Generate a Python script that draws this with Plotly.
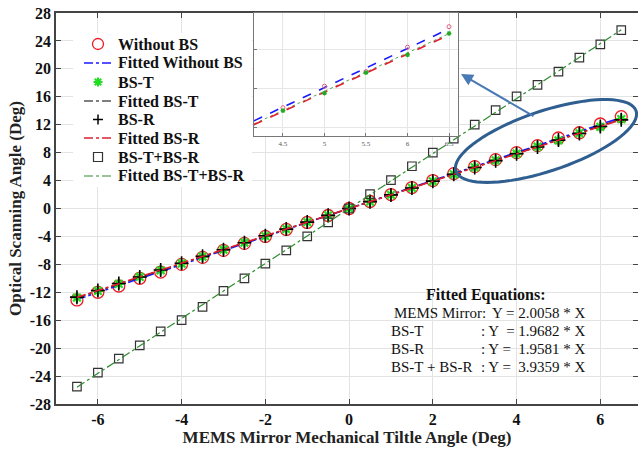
import numpy as np
import plotly.graph_objects as go

# ---------------- data ----------------
tilt = [-6.5, -6.0, -5.5, -5.0, -4.5, -4.0, -3.5, -3.0, -2.5, -2.0, -1.5, -1.0, -0.5, 0.0,
        0.5, 1.0, 1.5, 2.0, 2.5, 3.0, 3.5, 4.0, 4.5, 5.0, 5.5, 6.0, 6.5]
without_bs = [-13.1, -12.0, -11.1, -10.0, -9.1, -8.0, -7.0, -6.0, -5.0, -4.0, -3.0, -2.0, -1.0, 0.0,
              1.0, 2.0, 3.0, 4.0, 5.0, 6.0, 7.0, 8.0, 9.0, 10.1, 10.85, 12.1, 13.15]
bs_t = [-12.75, -11.8, -10.8, -9.8, -8.85, -7.9, -6.9, -5.9, -4.9, -3.95, -2.95, -1.95, -0.98, 0.0,
        0.98, 1.96, 2.95, 3.9, 4.9, 5.9, 6.9, 7.85, 8.85, 9.75, 10.8, 11.7, 12.8]
bs_r = [-12.7, -11.75, -10.75, -9.8, -8.8, -7.85, -6.85, -5.9, -4.9, -3.9, -2.95, -1.95, -0.98, 0.0,
        0.98, 1.95, 2.94, 3.92, 4.9, 5.88, 6.85, 7.85, 8.8, 9.8, 10.75, 11.75, 12.7]
bs_tr = [-25.5, -23.5, -21.5, -19.6, -17.6, -16.0, -14.1, -11.8, -10.0, -7.9, -6.0, -4.0, -2.0, 0.0,
         2.05, 4.05, 6.05, 8.0, 10.0, 12.0, 14.1, 16.05, 17.7, 19.6, 21.6, 23.5, 25.55]

slope_mems = 2.0058
slope_bst = 1.9682
slope_bsr = 1.9581
slope_bstr = 3.9359

fit_x = [-6.5, 6.5]
inset_fit_x = [4.15, 6.5]
inset_idx_start = 22  # x = 4.5 ... 6.5 shown in the inset

x_ticks = [-6, -4, -2, 0, 2, 4, 6]
y_ticks = list(range(-28, 29, 4))

legend_labels = ["Without BS", "Fitted Without BS", "BS-T", "Fitted BS-T",
                 "BS-R", "Fitted BS-R", "BS-T+BS-R", "Fitted BS-T+BS-R"]
eq_labels = ["MEMS Mirror:", "BS-T", "BS-R", "BS-T + BS-R"]
eq_rhs = ["Y = 2.0058 * X", ": Y  = 1.9682 * X", ": Y =  1.9581 * X", ": Y =  3.9359 * X"]

# ---------------- geometry ----------------
SERIF = "Liberation Serif"
OFF = 0                    # body margin removed via post_script
W, H = 638, 449
ML, MT, MB, MR = 56, 13, 45, 0
XR = [-7, 6.9]
YR = [-28, 28]
pw = W - ML - MR
ph = H - MT - MB

def px2data(px, py):
    x = XR[0] + (px - OFF - ML) / pw * (XR[1] - XR[0])
    y = YR[1] - (py - OFF - MT) / ph * (YR[1] - YR[0])
    return x, y

def wx(px):
    return (px - OFF - ML) / pw

def wy(py):
    return (H - MB - (py - OFF)) / ph

RED = "#ee1c24"
BLUE = "#1a1aff"
GREEN_M = "#22dd22"
GREEN_L = "#2e8b2e"
FRED = "#e02030"

fig = go.Figure()

def fitted(slope, xs):
    return [slope * v for v in xs]

# main traces
fig.add_trace(go.Scatter(x=tilt, y=without_bs, mode="markers", name=legend_labels[0],
                         marker=dict(symbol="circle-open", size=12, color=RED, line=dict(width=1.3))))
fig.add_trace(go.Scatter(x=fit_x, y=fitted(slope_mems, fit_x), mode="lines", name=legend_labels[1],
                         line=dict(color=BLUE, width=1.6, dash="dashdot")))
fig.add_trace(go.Scatter(x=tilt, y=bs_t, mode="markers", name=legend_labels[2],
                         marker=dict(symbol="asterisk-open", size=9, color=GREEN_M,
                                     line=dict(width=2.2, color=GREEN_M))))
fig.add_trace(go.Scatter(x=fit_x, y=fitted(slope_bst, fit_x), mode="lines", name=legend_labels[3],
                         line=dict(color="black", width=1.2, dash="dashdot")))
fig.add_trace(go.Scatter(x=tilt, y=bs_r, mode="markers", name=legend_labels[4],
                         marker=dict(symbol="cross-thin-open", size=10, color="black",
                                     line=dict(width=1.6, color="black"))))
fig.add_trace(go.Scatter(x=fit_x, y=fitted(slope_bsr, fit_x), mode="lines", name=legend_labels[5],
                         line=dict(color=FRED, width=1.6, dash="dashdot")))
fig.add_trace(go.Scatter(x=tilt, y=bs_tr, mode="markers", name=legend_labels[6],
                         marker=dict(symbol="square-open", size=8.5, color="#333333", line=dict(width=1.2))))
fig.add_trace(go.Scatter(x=fit_x, y=fitted(slope_bstr, fit_x), mode="lines", name=legend_labels[7],
                         line=dict(color=GREEN_L, width=1.2, dash="dashdot")))

# inset traces
ix = tilt[inset_idx_start:]
fig.add_trace(go.Scatter(x=inset_fit_x, y=fitted(slope_mems, inset_fit_x), mode="lines",
                         xaxis="x2", yaxis="y2", line=dict(color=BLUE, width=1.6, dash="dash")))
fig.add_trace(go.Scatter(x=inset_fit_x, y=fitted(slope_bst, inset_fit_x), mode="lines",
                         xaxis="x2", yaxis="y2", line=dict(color=GREEN_L, width=0.8, dash="dot")))
fig.add_trace(go.Scatter(x=inset_fit_x, y=fitted(slope_bsr, inset_fit_x), mode="lines",
                         xaxis="x2", yaxis="y2", line=dict(color=FRED, width=1.6, dash="dash")))
fig.add_trace(go.Scatter(x=ix, y=without_bs[inset_idx_start:], mode="markers",
                         xaxis="x2", yaxis="y2",
                         marker=dict(symbol="circle-open", size=4, color="#e06080", line=dict(width=1))))
fig.add_trace(go.Scatter(x=ix, y=bs_t[inset_idx_start:], mode="markers",
                         xaxis="x2", yaxis="y2",
                         marker=dict(symbol="asterisk-open", size=4, color="#22aa22",
                                     line=dict(width=1.2, color="#22aa22"))))

# ---------------- manual legend ----------------
leg_rows = [44, 63, 82, 101, 119.5, 138, 157, 176]
fig.add_shape(type="rect", xref="paper", yref="paper", x0=wx(73), x1=wx(252), y0=wy(187), y1=wy(33),
              fillcolor="white", line=dict(width=0), layer="above")
SX = 98
def seg(x0, y0, x1, y1, color, width, dash="solid"):
    fig.add_shape(type="line", xref="paper", yref="paper", x0=wx(x0), y0=wy(y0), x1=wx(x1), y1=wy(y1),
                  line=dict(color=color, width=width, dash=dash), layer="above")

r = 5.5
fig.add_shape(type="circle", xref="paper", yref="paper", x0=wx(SX - r), x1=wx(SX + r),
              y0=wy(leg_rows[0] + r), y1=wy(leg_rows[0] - r), line=dict(color=RED, width=1.3), layer="above")
for row, col, wdt in [(1, BLUE, 1.6), (3, "black", 1.2), (5, FRED, 1.6), (7, GREEN_L, 1.2)]:
    seg(84, leg_rows[row], 114, leg_rows[row], col, wdt, "dashdot")
yy = leg_rows[2]
s = 4.5
seg(SX - s, yy, SX + s, yy, GREEN_M, 2)
seg(SX, yy - s, SX, yy + s, GREEN_M, 2)
seg(SX - 3.2, yy - 3.2, SX + 3.2, yy + 3.2, GREEN_M, 2)
seg(SX - 3.2, yy + 3.2, SX + 3.2, yy - 3.2, GREEN_M, 2)
yy = leg_rows[4]
seg(SX - 5, yy, SX + 5, yy, "black", 1.5)
seg(SX, yy - 5, SX, yy + 5, "black", 1.5)
yy = leg_rows[6]
fig.add_shape(type="rect", xref="paper", yref="paper", x0=wx(SX - 4.5), x1=wx(SX + 4.5),
              y0=wy(yy + 4.5), y1=wy(yy - 4.5), line=dict(color="#333333", width=1.2), layer="above")
for lab, ry in zip(legend_labels, leg_rows):
    fig.add_annotation(x=wx(116), y=wy(ry), xref="paper", yref="paper", showarrow=False,
                       xanchor="left", yanchor="middle", text="<b>" + lab + "</b>",
                       font=dict(family=SERIF, size=16, color="#111"))

# ---------------- ellipse + arrow ----------------
cx, cy, a, b, ang = 546, 141, 95, 30, np.deg2rad(18.5)
t = np.linspace(0, 2 * np.pi, 80)
epx = cx + a * np.cos(t) * np.cos(ang) + b * np.sin(t) * np.sin(ang)
epy = cy - a * np.cos(t) * np.sin(ang) + b * np.sin(t) * np.cos(ang)
pts = [px2data(u, v) for u, v in zip(epx, epy)]
path = "M " + " L ".join(f"{p[0]:.4f},{p[1]:.4f}" for p in pts) + " Z"
fig.add_shape(type="path", path=path, xref="x", yref="y", line=dict(color="#2f5f90", width=3))

ax0, ay0 = px2data(535, 117)
ax1, ay1 = px2data(461, 74)
fig.add_annotation(x=ax1, y=ay1, ax=ax0, ay=ay0, xref="x", yref="y", axref="x", ayref="y",
                   showarrow=True, arrowhead=2, arrowsize=1.2, arrowwidth=2, arrowcolor="#4a7ab5", text="")

# ---------------- equations ----------------
fig.add_annotation(x=px2data(486, 0)[0], y=px2data(0, 295)[1], xref="x", yref="y", showarrow=False,
                   text="<b>Fitted Equations:</b>", font=dict(family=SERIF, size=16, color="#111"))
label_x = [392, 389, 389, 389]
rhs_x = [490, 479, 479, 479]
line_y = [313, 331, 349, 367]
for lab, rhs, lx, rx, ly in zip(eq_labels, eq_rhs, label_x, rhs_x, line_y):
    fig.add_annotation(x=px2data(lx, 0)[0], y=px2data(0, ly)[1], xref="x", yref="y", showarrow=False,
                       xanchor="left", text=lab, font=dict(family=SERIF, size=15, color="#111"))
    fig.add_annotation(x=px2data(rx, 0)[0], y=px2data(0, ly)[1], xref="x", yref="y", showarrow=False,
                       xanchor="left", text=rhs, font=dict(family=SERIF, size=15, color="#111"))

axis_common = dict(showline=True, linecolor="#444", linewidth=1.5, mirror="ticks", ticks="inside",
                   ticklen=5, tickcolor="#444", showgrid=True, gridcolor="#e3e3e3", gridwidth=1,
                   zeroline=False, automargin=False, ticklabeloverflow="allow")

fig.update_layout(
    width=W, height=H,
    margin=dict(l=ML, r=MR, t=MT, b=MB, autoexpand=False),
    paper_bgcolor="white", plot_bgcolor="white",
    font=dict(family=SERIF, color="#111"),
    showlegend=False,
    xaxis=dict(range=XR, tickvals=x_ticks, ticktext=[str(v) for v in x_ticks],
               tickfont=dict(family=SERIF, size=16, weight="bold", color="#111"),
               title=dict(text="<b>MEMS Mirror Mechanical Tiltle Angle (Deg)</b>",
                          font=dict(family=SERIF, size=17, color="#222"), standoff=4),
               **axis_common),
    yaxis=dict(range=YR, tickvals=y_ticks, ticktext=[str(v) for v in y_ticks],
               tickfont=dict(family=SERIF, size=16, weight="bold", color="#111"),
               title=dict(text="<b>Optical Scanning Angle (Deg)</b>",
                          font=dict(family=SERIF, size=17, color="#222"), standoff=4),
               **axis_common),
    xaxis2=dict(domain=[0.340, 0.691], anchor="y2", range=[4.15, 6.61],
                tickvals=[4.5, 5, 5.5, 6, 6.5], ticktext=["4.5", "5", "5.5", "6", "6.5"],
                tickfont=dict(size=7, color="#555"), showline=True, linecolor="#777", linewidth=1,
                mirror=True, ticks="inside", ticklen=3, tickcolor="#777",
                showgrid=True, gridcolor="#e6e6e6", zeroline=False),
    yaxis2=dict(domain=[0.685, 1.0], anchor="x2", range=[7.54, 13.85],
                tickvals=[8, 10, 12], ticktext=["8", "", "12"],
                tickfont=dict(size=7, color="#555"), showline=True, linecolor="#777", linewidth=1,
                mirror=True, ticks="inside", ticklen=3, tickcolor="#777",
                showgrid=True, gridcolor="#e6e6e6", zeroline=False),
)

fig.write_html("out.html", config={"displayModeBar": False},
               post_script="document.body.style.margin='0px';")
